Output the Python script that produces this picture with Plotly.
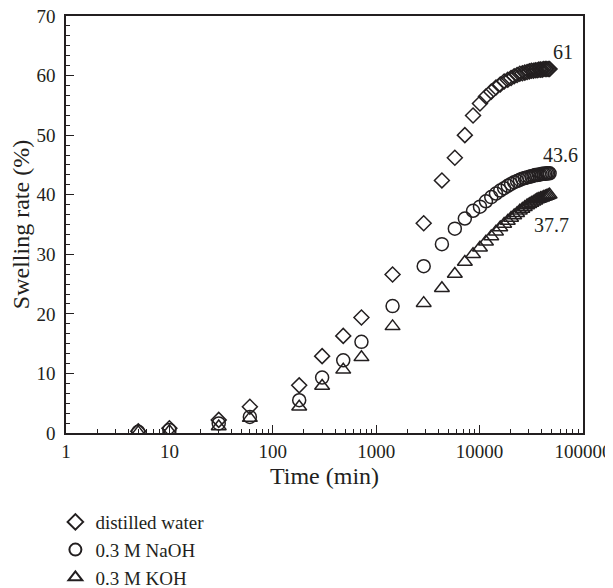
import math
import plotly.graph_objects as go

# Time points (min): early readings, then daily readings (1440 min/day)
time_min = [5, 10, 30, 60, 180, 300, 480, 720] + [1440 * n for n in range(1, 34)]

distilled_water = [0.3, 0.8, 2.2, 4.4, 8.0, 12.9, 16.3, 19.4,
                   26.6, 35.2, 42.4, 46.2, 50.0, 53.3, 55.3, 56.5, 57.3, 58.0,
                   58.5, 59.0, 59.3, 59.6, 59.9, 60.1, 60.3, 60.4, 60.5, 60.6,
                   60.7, 60.8, 60.8, 60.9, 60.9, 61.0, 61.0, 61.0, 61.1, 61.1,
                   61.1, 61.1, 61.1]
naoh = [0.2, 0.5, 1.6, 2.7, 5.5, 9.3, 12.2, 15.3,
        21.3, 28.0, 31.7, 34.3, 36.0, 37.3, 38.0, 38.9, 39.6, 40.2,
        40.7, 41.1, 41.5, 41.8, 42.1, 42.3, 42.5, 42.7, 42.8, 42.9,
        43.0, 43.1, 43.2, 43.3, 43.3, 43.4, 43.4, 43.5, 43.5, 43.5,
        43.6, 43.6, 43.6]
koh = [0.1, 0.3, 1.1, 2.5, 4.4, 7.9, 10.6, 12.7,
       17.9, 21.8, 24.3, 26.7, 28.7, 30.0, 31.1, 32.1, 33.0, 33.8,
       34.5, 35.1, 35.6, 36.1, 36.5, 36.9, 37.3, 37.6, 37.9, 38.2,
       38.4, 38.6, 38.8, 39.0, 39.2, 39.3, 39.4, 39.5, 39.6, 39.7,
       39.8, 39.9, 40.0]

series_names = ["distilled water", "0.3 M NaOH", "0.3 M KOH"]
series_symbols = ["diamond-open", "circle-open", "triangle-up-open"]
series_sizes = [11.5, 13, 13]
end_labels = ["61", "43.6", "37.7"]
label_x = [64000, 60000, 50000]
label_y = [64.0, 46.6, 34.9]

x_tickvals = [1, 10, 100, 1000, 10000, 100000]
x_ticktext = ["1", "10", "100", "1000", "10000", "100000"]

INK = "#231f20"
FONT = "Liberation Serif"

fig = go.Figure()
for name, ys, sym, sz in zip(series_names, [distilled_water, naoh, koh],
                             series_symbols, series_sizes):
    fig.add_trace(go.Scatter(
        x=time_min, y=ys, mode="markers", name=name,
        marker=dict(symbol=sym, size=sz, color=INK,
                    line=dict(color=INK, width=1.5)),
    ))

for t, lx, ly in zip(end_labels, label_x, label_y):
    fig.add_annotation(x=math.log10(lx), y=ly, text=t, showarrow=False,
                       font=dict(family=FONT, size=20, color=INK))

# page body has an 8px margin, so the figure is 8px smaller than the window
fig.update_layout(
    width=605, height=580,
    margin=dict(l=57.5, r=30, t=7.5, b=155, autoexpand=False),
    paper_bgcolor="white", plot_bgcolor="white",
    font=dict(family=FONT, size=20, color=INK),
    showlegend=True,
    legend=dict(x=-0.0205, y=-0.168, xanchor="left", yanchor="top",
                bgcolor="rgba(0,0,0,0)", font=dict(size=19),
                itemsizing="constant", tracegroupgap=0),
)
fig.update_xaxes(
    type="log", range=[0, 5], tickvals=x_tickvals, ticktext=x_ticktext,
    tickfont=dict(size=19), ticklabeloverflow="allow",
    showline=True, linecolor=INK, linewidth=1.5, mirror=True,
    ticks="inside", ticklen=8, tickwidth=1.2, tickcolor=INK,
    minor=dict(ticks="inside", ticklen=4, tickwidth=1.2, tickcolor=INK, dtick="D1", showgrid=False),
    showgrid=False, zeroline=False,
    title=dict(text="Time (min)", standoff=7),
)
fig.update_yaxes(
    range=[0, 70], dtick=10, tickfont=dict(size=19), ticklabelstandoff=5,
    ticklabeloverflow="allow",
    showline=True, linecolor=INK, linewidth=1.5, mirror=True,
    ticks="inside", ticklen=8, tickwidth=1.2, tickcolor=INK,
    minor=dict(ticks="inside", ticklen=4, tickwidth=1.2, tickcolor=INK, dtick=10/6, tick0=0, showgrid=False),
    showgrid=False, zeroline=False,
    title=dict(text="Swelling rate (%)", standoff=0),
)

fig.write_html("out.html")
